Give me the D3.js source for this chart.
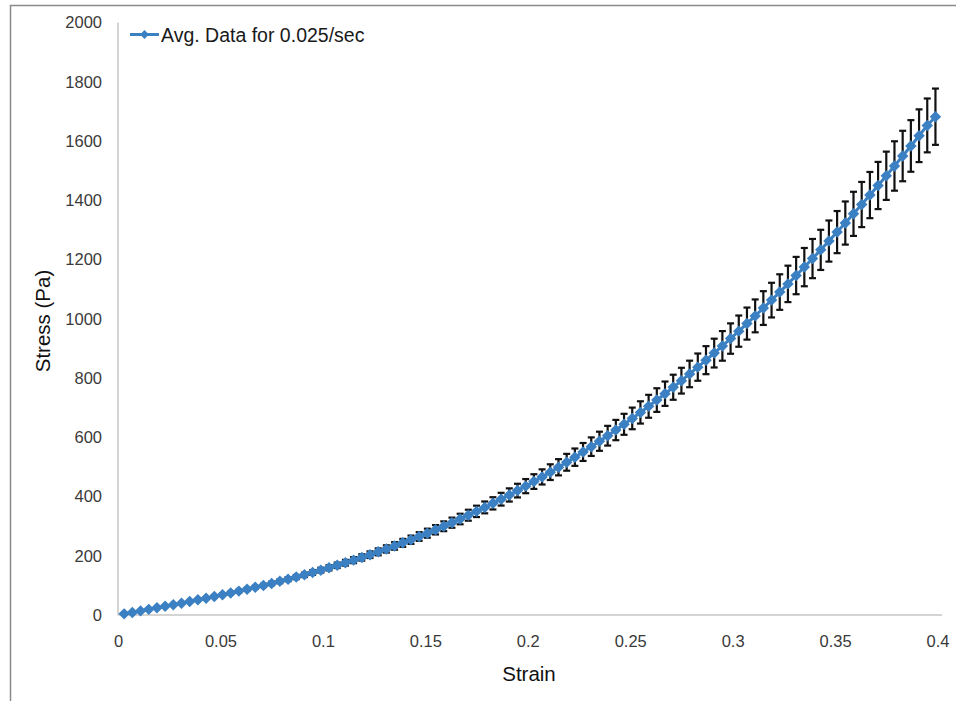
<!DOCTYPE html>
<html>
<head>
<meta charset="utf-8">
<script src="https://cdn.jsdelivr.net/npm/d3@7"></script>
<style>
  html, body { margin: 0; padding: 0; background: #fff; }
  svg { display: block; }
  text { font-family: "Liberation Sans", Arial, sans-serif; }
</style>
</head>
<body>
<svg id="chart" width="956" height="701"></svg>
<script>
// Strain sampled along the loading ramp
const strain = [
  0.003, 0.007, 0.011, 0.015, 0.019, 0.023, 0.027, 0.031, 0.035, 0.039,
  0.043, 0.047, 0.051, 0.055, 0.059, 0.063, 0.067, 0.071, 0.075, 0.079,
  0.083, 0.087, 0.091, 0.095, 0.099, 0.103, 0.107, 0.111, 0.115, 0.119,
  0.123, 0.127, 0.131, 0.135, 0.139, 0.143, 0.147, 0.151, 0.155, 0.159,
  0.163, 0.167, 0.171, 0.175, 0.179, 0.183, 0.187, 0.191, 0.195, 0.199,
  0.203, 0.207, 0.211, 0.215, 0.219, 0.223, 0.227, 0.231, 0.235, 0.239,
  0.243, 0.247, 0.251, 0.255, 0.259, 0.263, 0.267, 0.271, 0.275, 0.279,
  0.283, 0.287, 0.291, 0.295, 0.299, 0.303, 0.307, 0.311, 0.315, 0.319,
  0.323, 0.327, 0.331, 0.335, 0.339, 0.343, 0.347, 0.351, 0.355, 0.359,
  0.363, 0.367, 0.371, 0.375, 0.379, 0.383, 0.387, 0.391, 0.395, 0.399
];

// Mean stress (Pa) at each strain
const stress = [
  3.8, 8.8, 13.9, 19.0, 24.1, 29.4, 34.7, 40.0, 45.5, 51.1,
  56.7, 62.5, 68.4, 74.4, 80.6, 86.9, 93.3, 99.9, 106.7, 113.7,
  120.8, 128.1, 135.6, 143.4, 151.3, 159.4, 167.8, 176.4, 185.2, 194.3,
  203.6, 213.2, 223.0, 233.1, 243.5, 254.1, 265.0, 276.2, 287.7, 299.5,
  311.6, 324.0, 336.8, 349.8, 363.2, 376.9, 390.9, 405.2, 419.9, 435.0,
  450.4, 466.1, 482.2, 498.7, 515.5, 532.7, 550.3, 568.2, 586.5, 605.2,
  624.3, 643.7, 663.6, 683.8, 704.5, 725.5, 747.0, 768.8, 791.0, 813.7,
  836.7, 860.2, 884.1, 908.4, 933.1, 958.2, 983.7, 1009.7, 1036.1, 1062.9,
  1090.1, 1117.7, 1145.8, 1174.3, 1203.2, 1232.5, 1262.3, 1292.5, 1323.1, 1354.1,
  1385.6, 1417.5, 1449.8, 1482.6, 1515.7, 1549.3, 1583.3, 1617.8, 1652.6, 1682.0
];

// Error bar half-length (Pa)
const stressErr = [
  0.2, 0.5, 0.8, 1.0, 1.3, 1.6, 1.9, 2.2, 2.5, 2.8,
  3.1, 3.4, 3.8, 4.1, 4.4, 4.8, 5.1, 5.5, 5.9, 6.3,
  6.6, 7.0, 7.5, 7.9, 8.3, 8.8, 9.2, 9.7, 10.2, 10.7,
  11.2, 11.7, 12.3, 12.8, 13.4, 14.0, 14.6, 15.2, 15.8, 16.5,
  17.1, 17.8, 18.5, 19.2, 20.0, 20.7, 21.5, 22.3, 23.1, 23.9,
  24.8, 25.6, 26.5, 27.4, 28.4, 29.3, 30.3, 31.3, 32.3, 33.3,
  34.3, 35.4, 36.5, 37.6, 38.7, 39.9, 41.1, 42.3, 43.5, 44.8,
  46.0, 47.3, 48.6, 50.0, 51.3, 52.7, 54.1, 55.5, 57.0, 58.5,
  60.0, 61.5, 63.0, 64.6, 66.2, 67.8, 69.4, 71.1, 72.8, 74.5,
  76.2, 78.0, 79.7, 81.5, 83.4, 85.2, 87.1, 89.0, 90.9, 95.0
];

const xTicks = [0, 0.05, 0.1, 0.15, 0.2, 0.25, 0.3, 0.35, 0.4];
const yTicks = [0, 200, 400, 600, 800, 1000, 1200, 1400, 1600, 1800, 2000];
const seriesName = "Avg. Data for 0.025/sec";
const xTitle = "Strain";
const yTitle = "Stress (Pa)";

const points = strain.map((s, i) => ({ x: s, y: stress[i], e: stressErr[i] }));

const svg = d3.select("#chart");
const blue = "#3b80c2";

// outer chart frame
svg.append("rect")
  .attr("x", 10.5).attr("y", 5.5)
  .attr("width", 980).attr("height", 740)
  .attr("fill", "none").attr("stroke", "#8a8a8a").attr("stroke-width", 1.5);

const x = d3.scaleLinear().domain([0, 0.4]).range([118, 937.5]);
const y = d3.scaleLinear().domain([0, 2000]).range([615, 22.5]);

// axes
const xAxis = d3.axisBottom(x).tickValues(xTicks).tickSize(0).tickPadding(20)
  .tickFormat(d => String(+d.toFixed(2)));
const yAxis = d3.axisLeft(y).tickValues(yTicks).tickSize(0).tickPadding(16)
  .tickFormat(d3.format("d"));

const gx = svg.append("g").attr("transform", `translate(0,${y(0)})`).call(xAxis);
gx.select(".domain").attr("stroke", "#c6c6c6").attr("stroke-width", 1.5)
  .attr("d", `M${x(0)},0H942`);
gx.selectAll(".tick text").attr("font-size", 16.5).attr("fill", "#3a3a3a")
  .attr("font-family", "Liberation Sans, Arial, sans-serif");

const gy = svg.append("g").attr("transform", `translate(${x(0)},0)`).call(yAxis);
gy.select(".domain").attr("stroke", "#c6c6c6").attr("stroke-width", 1.5)
  .attr("d", `M0,${y(0)}V${y(2000)}`);
gy.selectAll(".tick text").attr("font-size", 16.5).attr("fill", "#3a3a3a")
  .attr("font-family", "Liberation Sans, Arial, sans-serif");

// axis titles
svg.append("text").attr("x", 529).attr("y", 681)
  .attr("text-anchor", "middle").attr("font-size", 20.5).attr("fill", "#111")
  .text(xTitle);
svg.append("text")
  .attr("transform", `translate(50,321) rotate(-90)`)
  .attr("text-anchor", "middle").attr("font-size", 20.5).attr("fill", "#111")
  .text(yTitle);

// error bars
const eb = svg.append("g").attr("stroke", "#111").attr("stroke-width", 2.2);
eb.selectAll("line.v").data(points).join("line").attr("class", "v")
  .attr("x1", d => x(d.x)).attr("x2", d => x(d.x))
  .attr("y1", d => y(d.y + d.e)).attr("y2", d => y(d.y - d.e));
eb.selectAll("line.t").data(points).join("line").attr("class", "t")
  .attr("x1", d => x(d.x) - 3.5).attr("x2", d => x(d.x) + 3.5)
  .attr("y1", d => y(d.y + d.e)).attr("y2", d => y(d.y + d.e));
eb.selectAll("line.b").data(points).join("line").attr("class", "b")
  .attr("x1", d => x(d.x) - 3.5).attr("x2", d => x(d.x) + 3.5)
  .attr("y1", d => y(d.y - d.e)).attr("y2", d => y(d.y - d.e));

// series line
svg.append("path").datum(points)
  .attr("fill", "none").attr("stroke", blue).attr("stroke-width", 3)
  .attr("d", d3.line().x(d => x(d.x)).y(d => y(d.y)));

// diamond markers
const diamond = d3.symbol().type(d3.symbolDiamond2).size(84);
svg.append("g").selectAll("path").data(points).join("path")
  .attr("transform", d => `translate(${x(d.x)},${y(d.y)})`)
  .attr("d", diamond).attr("fill", blue);

// legend
const lg = svg.append("g");
lg.append("line").attr("x1", 130).attr("x2", 159).attr("y1", 34.5).attr("y2", 34.5)
  .attr("stroke", blue).attr("stroke-width", 3);
lg.append("path").attr("transform", "translate(144.5,34.5)")
  .attr("d", d3.symbol().type(d3.symbolDiamond2).size(50)).attr("fill", blue);
lg.append("text").attr("x", 161).attr("y", 42).attr("font-size", 19.5)
  .attr("fill", "#1a1a1a").text(seriesName);
</script>
</body>
</html>
